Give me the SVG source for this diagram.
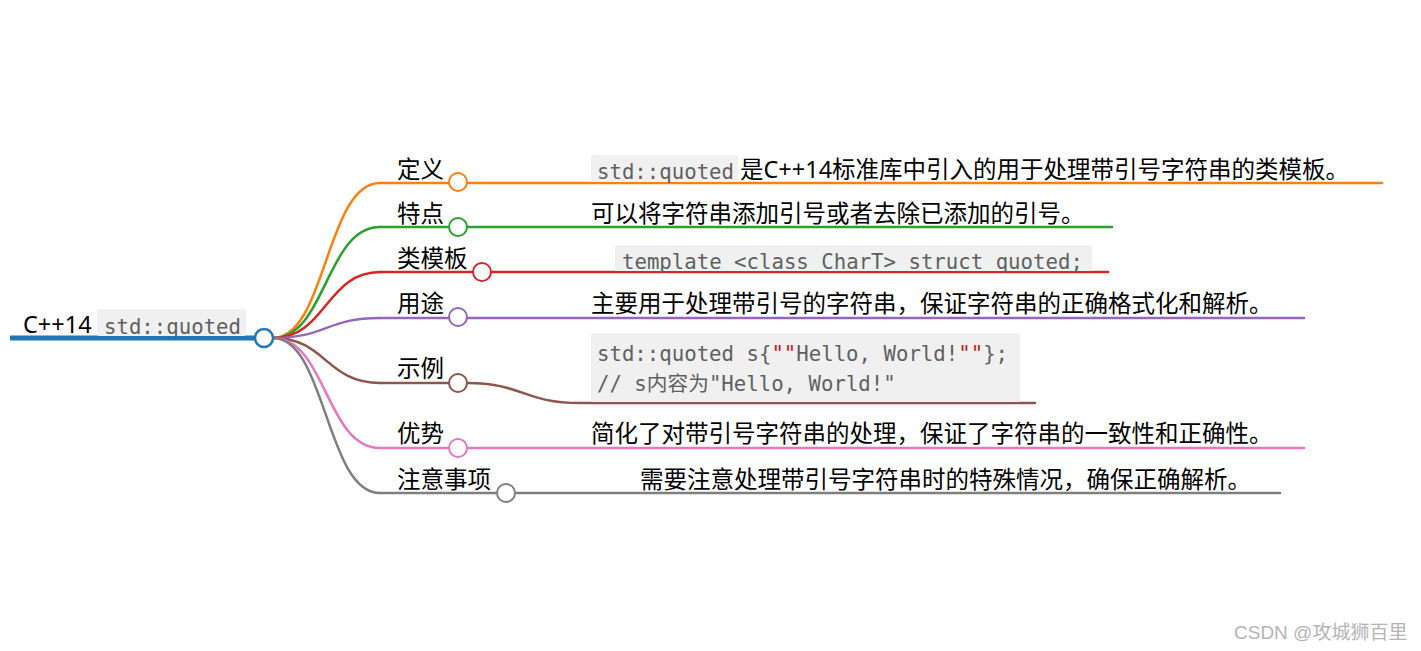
<svg xmlns="http://www.w3.org/2000/svg" width="1421" height="651" viewBox="0 0 1421 651">
<style>
.t{font-family:"Noto Sans","Noto Sans CJK SC",sans-serif;font-size:23.5px;fill:#000}
.c{font-family:"DejaVu Sans Mono","Noto Sans CJK SC",monospace;font-size:20.7px;fill:#606060}
.box{fill:#f0f0f0;rx:2}
.ln{fill:none;stroke-width:2.5;stroke-linecap:round}
.dot{fill:#fff;stroke-width:2}
.s{fill:#c41a16}
</style>
<rect width="1421" height="651" fill="#fff"/>
<g id="connectors">
<path class="ln" stroke="#ff7f0e" d="M273,338 C326,338 326,183 380,183"/>
<path class="ln" stroke="#2ca02c" d="M273,338 C326,338 326,227 380,227"/>
<path class="ln" stroke="#d62728" d="M273,338 C326,338 326,272 380,272"/>
<path class="ln" stroke="#9467bd" d="M273,338 C326,338 326,318 380,318"/>
<path class="ln" stroke="#8c564b" d="M273,338 C326,338 326,383 380,383"/>
<path class="ln" stroke="#e377c2" d="M273,338 C326,338 326,448 380,448"/>
<path class="ln" stroke="#7f7f7f" d="M273,338 C326,338 326,493 380,493"/>
</g>
<g id="root">
<line x1="10" y1="338" x2="256" y2="338" stroke="#1f77b4" stroke-width="5"/>
<text class="t" x="23" y="333">C++14</text>
<rect class="box" x="97" y="309" width="149" height="27"/>
<text class="c" x="104" y="334">std::quoted</text>
<circle cx="264" cy="338" r="9" fill="#fff" stroke="#1f77b4" stroke-width="2.5"/>
</g>
<g id="n-def">
<line class="ln" stroke="#ff7f0e" x1="380" y1="183" x2="1382" y2="183"/>
<text class="t" x="397" y="178">定义</text>
<circle class="dot" cx="458" cy="182" r="9" stroke="#ff7f0e"/>
<rect class="box" x="591" y="155" width="147" height="27"/>
<text class="c" x="597" y="179">std::quoted</text>
<text class="t" x="740" y="178">是C++14标准库中引入的用于处理带引号字符串的类模板。</text>
</g>
<g id="n-feat">
<line class="ln" stroke="#2ca02c" x1="380" y1="227" x2="1112" y2="227"/>
<text class="t" x="397" y="222">特点</text>
<circle class="dot" cx="458" cy="227" r="9" stroke="#2ca02c"/>
<text class="t" x="591" y="222">可以将字符串添加引号或者去除已添加的引号。</text>
</g>
<g id="n-tpl">
<line class="ln" stroke="#d62728" x1="380" y1="272" x2="1108" y2="272"/>
<text class="t" x="397" y="267">类模板</text>
<circle class="dot" cx="482" cy="272" r="9" stroke="#d62728"/>
<rect class="box" x="615" y="245" width="477" height="26"/>
<text class="c" x="622" y="269">template &lt;class CharT&gt; struct quoted;</text>
</g>
<g id="n-use">
<line class="ln" stroke="#9467bd" x1="380" y1="318" x2="1304" y2="318"/>
<text class="t" x="397" y="312">用途</text>
<circle class="dot" cx="458" cy="317" r="9" stroke="#9467bd"/>
<text class="t" x="591" y="312">主要用于处理带引号的字符串，保证字符串的正确格式化和解析。</text>
</g>
<g id="n-ex">
<path class="ln" stroke="#8c564b" d="M380,383 L458,383 M467,383 C523,383 523,403 580,403 L1035,403"/>
<text class="t" x="397" y="377">示例</text>
<circle class="dot" cx="458" cy="383" r="9" stroke="#8c564b"/>
<rect class="box" x="591" y="333" width="429" height="69"/>
<text class="c" x="597" y="361" xml:space="preserve">std::quoted s{<tspan class="s">""</tspan>Hello, World!<tspan class="s">""</tspan>};</text>
<text class="c" x="597" y="391" fill="#707070">// s内容为"Hello, World!"</text>
</g>
<g id="n-adv">
<line class="ln" stroke="#e377c2" x1="380" y1="448" x2="1304" y2="448"/>
<text class="t" x="397" y="442">优势</text>
<circle class="dot" cx="458" cy="448" r="9" stroke="#e377c2"/>
<text class="t" x="591" y="442">简化了对带引号字符串的处理，保证了字符串的一致性和正确性。</text>
</g>
<g id="n-note">
<line class="ln" stroke="#7f7f7f" x1="380" y1="493" x2="1280" y2="493"/>
<text class="t" x="397" y="488">注意事项</text>
<circle class="dot" cx="506" cy="493" r="9" stroke="#7f7f7f"/>
<text class="t" x="640" y="488">需要注意处理带引号字符串时的特殊情况，确保正确解析。</text>
</g>
<text x="1234" y="639" font-family="'Liberation Sans','Noto Sans CJK SC',sans-serif" font-size="19" fill="#b4b4b4">CSDN @攻城狮百里</text>
</svg>
